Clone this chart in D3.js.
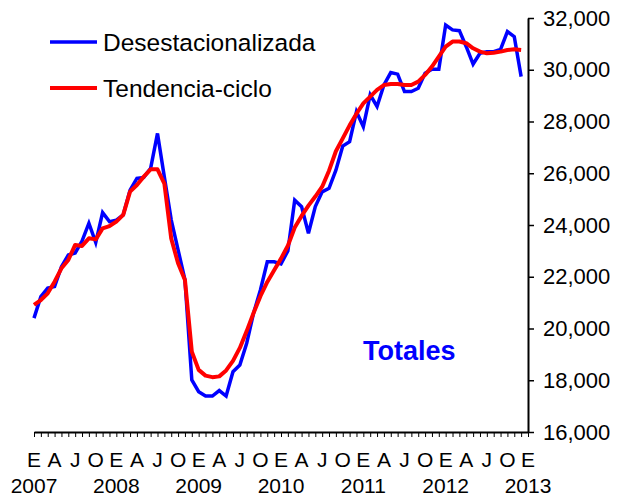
<!DOCTYPE html>
<html>
<head>
<meta charset="utf-8">
<script src="https://cdn.jsdelivr.net/npm/d3@7"></script>
<style>
  body { margin: 0; background: #fff; }
  svg { display: block; font-family: "Liberation Sans", Arial, sans-serif; }
</style>
</head>
<body>
<svg id="chart" width="621" height="499"></svg>
<script>
// monthly series, Jan 2007 - Dec 2012
const desestacionalizada = [
  20400, 21230, 21560, 21620, 22390, 22840, 22920, 23380, 24070, 23320, 24480, 24130,
  24190, 24390, 25350, 25800, 25840, 26190, 27540, 25850, 24200, 23040, 21880, 18010,
  17560, 17390, 17390, 17600, 17390, 18330, 18590, 19430, 20590, 21490, 22580, 22580,
  22500, 23000, 24960, 24710, 23680, 24710, 25280, 25420, 26120, 27050, 27220, 28380,
  27800, 29030, 28580, 29410, 29890, 29830, 29155, 29155, 29285, 29865, 30020, 30020,
  31730, 31540, 31510, 30890, 30220, 30635, 30700, 30700, 30790, 31475, 31280, 29735
];
const tendenciaCiclo = [
  20910, 21100, 21360, 21810, 22325, 22650, 23230, 23190, 23485, 23445, 23870, 23960,
  24130, 24390, 25290, 25545, 25870, 26150, 26150, 25600, 23480, 22520, 21875, 19105,
  18400, 18180, 18120, 18150, 18380, 18750, 19250, 19900, 20600, 21250, 21800, 22250,
  22700, 23200, 23900, 24350, 24750, 25100, 25480, 26100, 26850, 27350, 27850, 28300,
  28700, 28960, 29220, 29410, 29450, 29450, 29410, 29410, 29540, 29800, 30120, 30505,
  30890, 31090, 31090, 31025, 30830, 30700, 30635, 30660, 30700, 30765, 30790, 30765
];
const quarterLabels = ["E", "A", "J", "O"];
const years = [2007, 2008, 2009, 2010, 2011, 2012, 2013];
const yTicks = [16000, 18000, 20000, 22000, 24000, 26000, 28000, 30000, 32000];
const seriesNames = ["Desestacionalizada", "Tendencia-ciclo"];
const seriesColors = ["#0000ff", "#ff0000"];

const svg = d3.select("#chart");
const nMonths = (years.length - 1) * 12; // 72 -> Jan 2013

const x = d3.scaleLinear().domain([0, nMonths]).range([34, 528]);
const y = d3.scaleLinear().domain([16000, 32000]).range([432, 18]);

// y axis on the right
const yAxis = svg.append("g")
  .attr("transform", `translate(${x(nMonths)},0)`)
  .call(d3.axisRight(y).tickValues(yTicks).tickSize(6).tickSizeOuter(0)
    .tickPadding(9).tickFormat(d3.format(",")));
yAxis.select(".domain").attr("stroke", "#000").attr("stroke-width", 2);
yAxis.selectAll(".tick line").attr("stroke", "#000").attr("stroke-width", 1.5);
yAxis.selectAll("text").attr("font-size", 22).attr("fill", "#000")
  .attr("font-family", "Liberation Sans, Arial, sans-serif");

// x axis, monthly ticks
const xAxis = svg.append("g")
  .attr("transform", `translate(0,${y(16000)})`)
  .call(d3.axisBottom(x).tickValues(d3.range(0, nMonths + 1)).tickSize(5)
    .tickSizeOuter(0).tickFormat(""));
xAxis.select(".domain").attr("stroke", "#000").attr("stroke-width", 2);
xAxis.selectAll(".tick line").attr("stroke", "#000").attr("stroke-width", 1);

// quarter letters
svg.append("g").selectAll("text")
  .data(d3.range(0, nMonths + 1, 3))
  .join("text")
  .attr("x", d => x(d))
  .attr("y", 467)
  .attr("text-anchor", "middle")
  .attr("font-size", 21)
  .text(d => quarterLabels[(d / 3) % 4]);

// years
svg.append("g").selectAll("text")
  .data(years)
  .join("text")
  .attr("x", (d, i) => x(i * 12))
  .attr("y", 493)
  .attr("text-anchor", "middle")
  .attr("font-size", 21)
  .text(d => d);

// lines
const line = d3.line().x((d, i) => x(i)).y(d => y(d));

svg.append("path")
  .datum(desestacionalizada)
  .attr("d", line)
  .attr("fill", "none")
  .attr("stroke", seriesColors[0])
  .attr("stroke-width", 3.5)
  .attr("stroke-linejoin", "miter");

svg.append("path")
  .datum(tendenciaCiclo)
  .attr("d", line)
  .attr("fill", "none")
  .attr("stroke", seriesColors[1])
  .attr("stroke-width", 4)
  .attr("stroke-linejoin", "round");

// legend
const legend = svg.append("g").selectAll("g")
  .data(seriesNames)
  .join("g")
  .attr("transform", (d, i) => `translate(50,${42 + i * 46})`);

legend.append("line")
  .attr("x1", 0).attr("x2", 47)
  .attr("stroke", (d, i) => seriesColors[i])
  .attr("stroke-width", (d, i) => i ? 4 : 3.5);

legend.append("text")
  .attr("x", 53)
  .attr("y", 9)
  .attr("font-size", 24.5)
  .text(d => d);

// label
svg.append("text")
  .attr("x", 363)
  .attr("y", 360)
  .attr("font-size", 27)
  .attr("font-weight", "bold")
  .attr("fill", "#0000ff")
  .text("Totales");
</script>
</body>
</html>
